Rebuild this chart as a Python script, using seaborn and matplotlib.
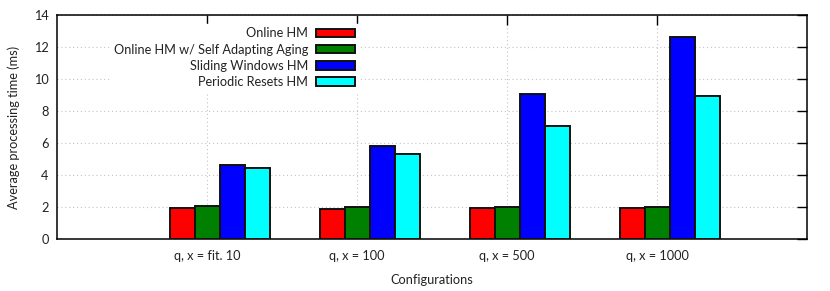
import numpy as np
import pandas as pd
import matplotlib
matplotlib.use("Agg")
import matplotlib.pyplot as plt
import seaborn as sns
from matplotlib.patches import Patch

# data
configs = ['q, x = fit. 10', 'q, x = 100', 'q, x = 500', 'q, x = 1000']
methods = ['Online HM', 'Online HM w/ Self Adapting Aging',
           'Sliding Windows HM', 'Periodic Resets HM']
online_hm = [1.98, 1.91, 1.96, 1.96]
online_aging = [2.10, 2.00, 2.00, 2.01]
sliding_windows = [4.66, 5.83, 9.06, 12.64]
periodic_resets = [4.45, 5.31, 7.10, 8.94]
colors = ['#ff0000', '#008000', '#0000ff', '#00ffff']

df = pd.DataFrame({
    'Configuration': configs * 4,
    'Method': np.repeat(methods, 4),
    'Time': online_hm + online_aging + sliding_windows + periodic_resets,
})

sns.set_theme(style="white")
plt.rcParams['font.family'] = ['Lato', 'DejaVu Sans']
plt.rcParams['font.size'] = 9.2

fig = plt.figure(figsize=(8.3, 2.91), dpi=100)
ax = fig.add_axes([0.0687, 0.1777, 0.9036, 0.7708])

sns.barplot(data=df, x='Configuration', y='Time', hue='Method',
            palette=colors, width=4 / 6, gap=0, edgecolor='#111111',
            linewidth=1.4, saturation=1, legend=False, ax=ax, zorder=3)

# gnuplot-like layout: tick sits on the second bar of each cluster
shift = 1 / 12
ax.set_xticks(np.arange(len(configs)) - shift)
ax.set_xticklabels(configs)
ax.set_xlim(-1 - shift, len(configs) - shift)
ax.set_ylim(0, 14)
ax.set_yticks(np.arange(0, 15, 2))
ax.tick_params(direction='in', length=7, width=1, top=True, right=True,
               bottom=False, colors='black', labelsize=9.2)
ax.tick_params(axis='x', pad=8)
ax.tick_params(axis='y', pad=6)
for lbl in ax.get_xticklabels() + ax.get_yticklabels():
    lbl.set_color('#222222')

ax.grid(True, color='#c4c4c4', linestyle=(0, (1, 2.5)), linewidth=0.8, zorder=0)
ax.set_axisbelow(True)
for s in ax.spines.values():
    s.set_color('black')
    s.set_linewidth(1.1)

ax.set_xlabel('Configurations', fontsize=9.2, labelpad=8, color='#222222')
ax.set_ylabel('Average processing time (ms)', fontsize=9.2, labelpad=10, color='#222222')

handles = [Patch(facecolor=c, edgecolor='#111111', linewidth=1.4) for c in colors]
leg = ax.legend(handles, methods, loc='upper right', bbox_to_anchor=(0.403, 0.962),
                markerfirst=False, frameon=True, framealpha=1, edgecolor='white',
                fancybox=False, handlelength=3.1, handleheight=0.65,
                labelspacing=0.33, borderaxespad=0, handletextpad=0.6,
                borderpad=0.3, fontsize=9.2)
leg.set_zorder(5)
for t in leg.get_texts():
    t.set_ha('right')
    t.set_color('#222222')

fig.savefig('out.png', dpi=100)
